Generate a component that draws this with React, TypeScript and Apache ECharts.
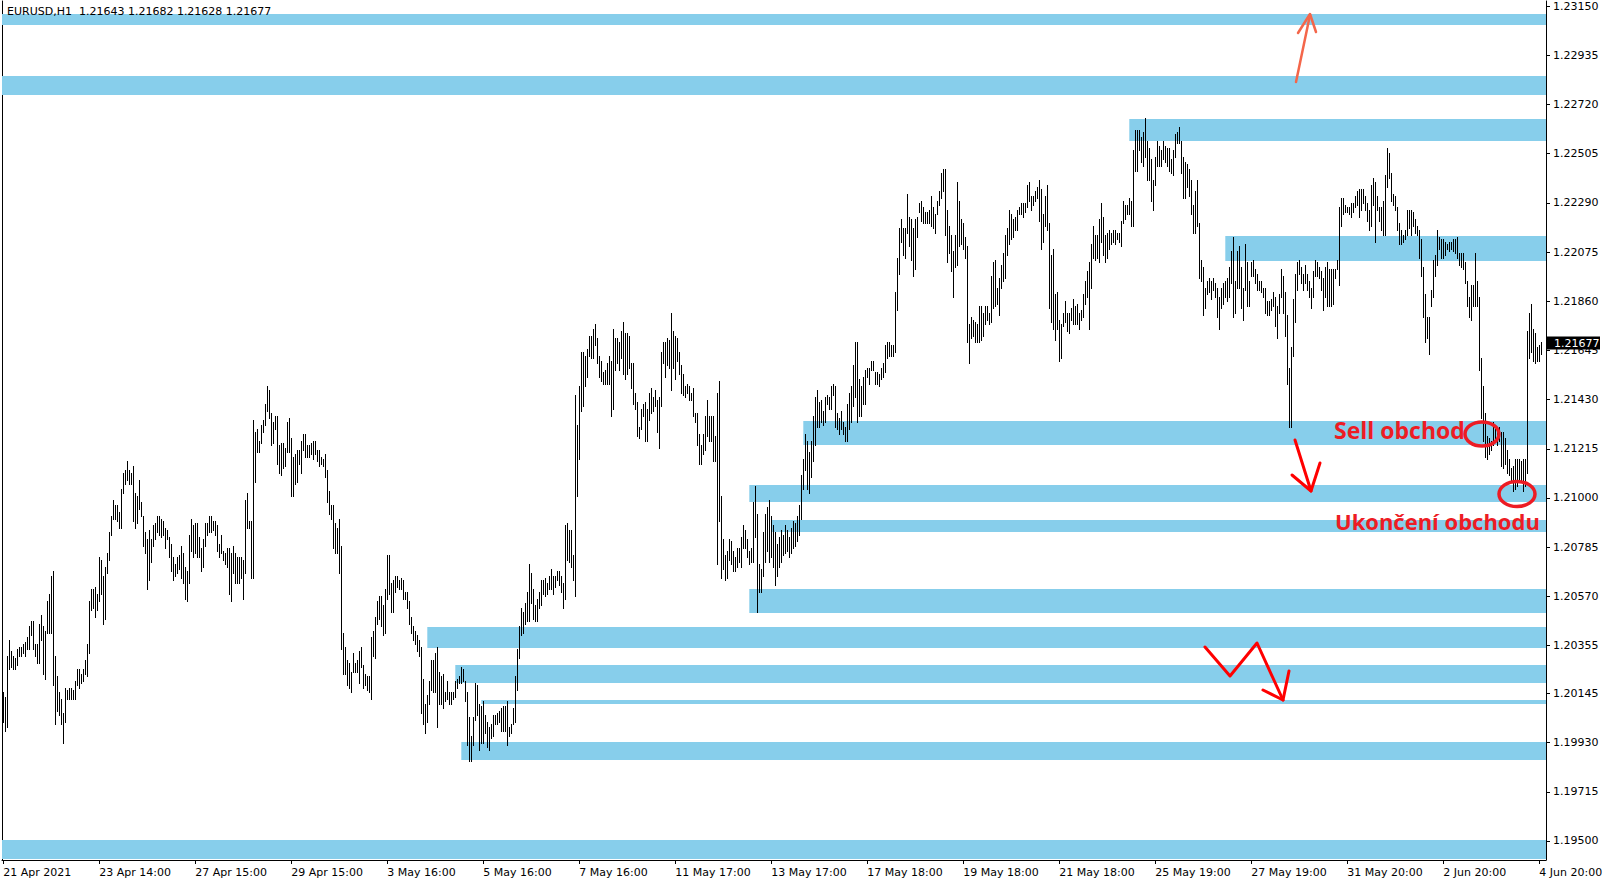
import React, { useEffect, useRef } from "react";
import * as echarts from "echarts";

// ---- DATA (prices in pips, i.e. price * 10000), each bar = [high, low] ----
const bars21Apr = [
  [12015,12002],[12013,11998],[12031,12000],[12038,12025],[12033,12026],[12031,12025],[12030,12025],[12034,12027],[12035,12031],[12035,12031],
  [12036,12032],[12037,12031],[12039,12034],[12044,12034],[12046,12040],[12046,12034],[12036,12031],[12036,12028],[12045,12028],[12049,12038],
  [12044,12023],[12042,12021],[12055,12041],[12058,12041],[12066,12041],[12068,12018],[12031,12001],[12022,12007],[12015,12005],[12012,12001],
  [12006,11993],[12017,12002],[12016,12012],[12017,12012],[12017,12012],[12016,12012],[12020,12012],[12025,12018],[12025,12017],[12023,12019],
  [12025,12020],[12029,12023],[12036,12022],[12055,12032],[12060,12051],[12060,12052],[12061,12048],[12058,12051],[12074,12055],[12073,12058],
  [12066,12045],[12070,12047],[12076,12067],[12085,12073],[12092,12084],[12099,12091],[12097,12091],[12097,12090],[12094,12087],[12104,12087],
  [12111,12102],[12112,12106],[12116,12108],[12112,12106],[12111,12106],[12114,12090],[12102,12087],[12101,12089],[12108,12095],[12098,12092],
  [12092,12079],[12085,12076],[12082,12060],[12086,12064],[12082,12072],[12088,12079],[12089,12082],[12092,12085],[12092,12084],[12091,12083],
  [12090,12084],[12087,12078],[12086,12082],[12083,12074],[12080,12068],[12074,12064],[12071,12066],[12074,12067],[12075,12069],[12079,12065],
  [12076,12063],[12070,12056],[12068,12055],[12084,12063],[12091,12077],[12088,12074],[12089,12076],[12089,12074],[12083,12074],[12078,12068],
  [12082,12070],[12089,12079],[12089,12084],[12092,12085],[12092,12085],[12090,12086],[12090,12084],[12088,12077],[12080,12074],[12084,12076],
  [12077,12073],[12076,12071],[12078,12070],[12078,12058],[12076,12055],[12079,12067],[12076,12063],[12074,12063],[12074,12063],[12074,12065],
  [12073,12056],[12099,12067],[12102,12087],[12090,12087],[12090,12065],[12134,12065],[12129,12107],[12130,12120],[12125,12120],
];
const bars29Apr = [
  [12132,12124],[12134,12129],[12141,12132],[12149,12138],[12147,12135],[12137,12123],[12133,12124],[12136,12130],[12136,12115],[12123,12111],
  [12124,12110],[12124,12113],[12122,12114],[12133,12120],[12135,12120],[12126,12101],[12118,12101],[12119,12106],[12121,12107],[12121,12115],
  [12125,12111],[12128,12121],[12128,12118],[12123,12118],[12123,12118],[12124,12119],[12125,12117],[12125,12119],[12121,12116],[12121,12114],
  [12118,12115],[12117,12114],[12119,12109],[12112,12098],[12103,12093],[12097,12091],[12097,12078],[12089,12076],[12087,12076],[12091,12067],
  [12079,12034],[12041,12023],[12035,12023],[12029,12018],[12028,12017],[12024,12015],[12032,12024],[12028,12024],[12029,12024],[12033,12019],
  [12035,12026],[12027,12017],[12023,12018],[12022,12016],[12022,12015],[12039,12012],[12042,12031],[12048,12030],[12055,12045],[12057,12047],
  [12057,12044],[12053,12040],[12060,12041],[12075,12056],[12075,12058],[12063,12050],[12064,12050],[12066,12059],[12066,12061],[12064,12060],
  [12065,12060],[12064,12056],[12059,12056],[12059,12052],[12055,12045],[12048,12041],[12044,12038],[12042,12036],[12040,12033],[12038,12031],
  [12035,12006],[12021,12001],[12010,11997],[12014,12002],[12020,12010],[12029,12016],[12029,12015],[12032,12015],[12035,12000],[12024,12010],
  [12022,12010],[12023,12008],[12015,12011],[12020,12012],[12015,12010],[12015,12010],[12015,12012],[12020,12013],[12021,12017],[12022,12019],
  [12026,12019],[12025,12020],[12020,12011],[12015,11992],[12004,11985],[11996,11985],[12004,11992],[12019,12003],[12018,12005],[12010,11990],
  [12009,11993],[12011,11993],[12005,11997],[12002,11991],[12000,11990],[12001,11995],[12005,11996],[12005,12001],[12006,12001],[12007,12002],
  [12008,11998],[12009,11998],[12009,11998],[12011,11992],[12000,11996],[12001,11997],[12008,12001],
  [12022,12002],[12034,12016],[12044,12030],
];
const bars6May = [
  [12052,12040],[12050,12041],[12054,12045],[12059,12046],[12071,12046],[12067,12054],[12060,12047],[12053,12046],[12056,12046],[12059,12052],
  [12064,12053],[12064,12058],[12065,12057],[12063,12058],[12066,12060],[12069,12060],[12066,12058],[12066,12061],[12068,12064],[12068,12062],
  [12066,12059],[12063,12052],[12088,12056],[12089,12073],[12086,12072],[12086,12070],[12075,12064],[12145,12057],[12132,12101],[12149,12117],
  [12164,12138],[12164,12140],[12162,12149],[12165,12153],[12171,12162],[12171,12161],[12174,12161],[12176,12167],[12170,12159],[12162,12153],
  [12160,12151],[12155,12150],[12156,12150],[12159,12150],[12162,12150],[12160,12136],[12174,12139],[12170,12156],[12170,12159],[12168,12156],
  [12173,12161],[12177,12154],[12172,12152],[12172,12154],[12171,12157],[12159,12148],[12159,12141],[12146,12139],[12142,12127],[12131,12126],
  [12139,12130],[12141,12136],[12142,12125],[12139,12125],[12146,12134],[12148,12137],[12144,12138],[12147,12140],[12143,12129],[12144,12122],
  [12164,12140],[12168,12159],[12168,12153],[12170,12158],[12169,12157],[12181,12147],[12173,12157],[12171,12152],[12170,12160],[12164,12154],
  [12158,12146],[12154,12145],[12149,12144],[12150,12146],[12149,12143],[12146,12143],[12148,12136],[12137,12133],[12137,12123],[12128,12115],
  [12123,12115],[12128,12119],[12136,12121],[12143,12127],[12136,12125],[12136,12125],[12136,12116],[12127,12116],[12146,12071],[12151,12090],
  [12101,12065],[12082,12069],[12075,12064],[12077,12065],[12082,12073],[12081,12071],[12077,12068],[12074,12068],[12078,12070],[12078,12072],
  [12083,12070],[12088,12078],[12086,12078],[12082,12074],[12077,12071],[12078,12072],[12098,12072],[12105,12083],[12093,12050],[12071,12059],
  [12069,12059],[12085,12066],[12093,12072],[12096,12077],[12099,12072],
  [12092,12074],[12088,12070],[12085,12062],[12080,12066],[12083,12070],[12086,12072],[12084,12075],[12088,12076],[12086,12077],[12083,12074],
  [12087,12076],[12090,12078],[12089,12079],[12092,12081],
];
const bars14May = [
  [12097,12084],[12110,12091],[12117,12104],[12128,12112],[12125,12104],[12120,12102],[12125,12109],[12136,12116],[12144,12123],[12147,12131],
  [12142,12131],[12143,12133],[12138,12132],[12144,12133],[12145,12141],[12144,12139],[12149,12139],[12150,12145],[12149,12131],[12137,12130],
  [12135,12128],[12138,12130],[12133,12128],[12131,12125],[12141,12125],[12146,12130],[12149,12133],[12158,12140],[12168,12144],[12168,12133],
  [12152,12136],[12149,12136],[12153,12141],[12156,12141],[12157,12153],[12157,12150],[12160,12156],[12160,12156],[12155,12150],[12155,12150],
  [12154,12149],[12157,12152],[12159,12153],[12167,12155],[12168,12161],[12168,12162],[12167,12162],[12167,12162],[12190,12164],[12205,12182],
  [12218,12198],[12222,12212],[12218,12206],[12218,12205],[12233,12216],[12223,12210],[12222,12204],[12218,12197],[12222,12200],[12223,12214],
  [12229,12225],[12230,12221],[12227,12220],[12225,12220],[12225,12220],[12226,12220],[12232,12219],[12227,12218],[12224,12216],[12230,12224],
  [12234,12228],[12242,12231],[12244,12234],[12244,12215],[12226,12203],[12219,12207],[12215,12199],[12208,12188],[12215,12201],[12238,12202],
  [12230,12210],[12222,12211],[12220,12209],[12214,12205],[12210,12168],[12176,12159],[12179,12170],[12178,12171],[12177,12168],[12176,12168],
  [12184,12168],[12184,12169],[12181,12171],[12184,12176],[12184,12178],[12181,12176],[12197,12177],[12203,12183],[12204,12184],[12192,12185],
  [12196,12180],[12202,12192],[12207,12195],[12215,12196],[12218,12206],[12226,12211],[12224,12213],[12222,12214],[12223,12217],[12226,12217],
  [12227,12224],[12229,12224],[12229,12223],[12229,12225],[12237,12227],[12238,12230],[12232,12226],[12232,12228],
];
const bars21May = [
  [12234,12230],[12236,12231],[12239,12221],[12235,12209],[12224,12212],[12232,12219],[12237,12217],[12220,12183],[12206,12177],[12209,12174],
  [12189,12169],[12190,12174],[12178,12160],[12176,12161],[12181,12175],[12186,12177],[12181,12173],[12181,12172],[12183,12178],[12187,12176],
  [12184,12176],[12185,12176],[12181,12174],[12182,12178],[12189,12179],[12195,12185],[12199,12188],[12203,12174],[12211,12192],[12219,12205],
  [12215,12204],[12215,12205],[12222,12203],[12229,12212],[12223,12206],[12215,12203],[12216,12205],[12217,12209],[12216,12211],[12217,12212],
  [12217,12211],[12216,12213],[12216,12212],[12221,12210],[12230,12220],[12228,12222],[12228,12224],[12231,12224],[12230,12219],[12252,12219],
  [12261,12243],[12261,12243],[12261,12252],[12258,12247],[12260,12245],[12266,12249],[12256,12239],[12253,12239],[12248,12230],[12239,12226],
  [12249,12237],[12256,12245],[12254,12245],[12252,12245],[12256,12248],[12254,12247],[12253,12245],[12253,12243],[12248,12242],[12252,12241],
  [12259,12249],[12260,12255],[12262,12255],[12256,12242],[12249,12231],[12247,12231],[12246,12236],[12244,12232],[12239,12224],[12228,12216],
  [12234,12216],[12239,12219],[12220,12196],[12204,12195],[12201,12180],[12192,12183],[12195,12189],[12196,12190],[12195,12187],[12196,12191],
  [12194,12188],[12192,12179],[12188,12174],[12192,12183],[12194,12185],[12195,12188],[12196,12186],[12201,12188],[12208,12194],[12214,12179],
  [12195,12181],[12208,12192],[12210,12192],[12201,12183],[12192,12178],[12211,12191],[12203,12184],[12195,12184],[12203,12197],[12204,12197],
  [12200,12194],[12198,12191],[12195,12191],[12195,12190],[12192,12188],[12192,12181],[12186,12180],[12186,12180],[12187,12182],[12190,12184],
  [12188,12175],[12184,12170],[12189,12181],[12200,12188],[12197,12181],[12190,12171],[12180,12150],[12157,12131],[12166,12131],[12187,12162],
  [12198,12177],[12203,12191],[12204,12198],
];
const bars31May = [
  [12201,12194],[12198,12191],[12202,12194],[12198,12191],[12195,12188],[12192,12183],[12199,12188],[12204,12197],[12203,12197],[12201,12196],
  [12199,12191],[12196,12182],[12201,12188],[12203,12184],[12200,12184],[12200,12184],[12200,12185],[12200,12196],[12204,12200],[12227,12193],
  [12231,12219],[12231,12224],[12228,12225],[12227,12225],[12227,12224],[12229,12223],[12229,12225],[12232,12227],[12234,12228],[12235,12223],
  [12235,12226],[12235,12229],[12232,12226],[12229,12221],[12226,12217],[12237,12219],[12240,12228],[12238,12212],[12232,12226],[12227,12221],
  [12227,12217],[12230,12215],[12241,12215],[12253,12236],[12251,12240],[12242,12230],[12233,12228],[12232,12226],[12227,12217],[12220,12211],
  [12217,12211],[12215,12212],[12217,12213],[12226,12215],[12226,12218],[12226,12215],[12225,12219],[12222,12216],[12219,12215],[12217,12205],
  [12213,12197],[12201,12179],[12189,12168],[12179,12170],[12179,12163],[12191,12184],[12204,12188],[12206,12197],[12217,12202],[12214,12209],
  [12213,12205],[12213,12205],[12212,12206],[12211,12209],[12212,12208],[12212,12209],[12213,12208],[12213,12207],[12214,12205],[12207,12202],
  [12207,12201],[12207,12200],[12203,12194],[12195,12184],[12188,12179],[12193,12178],[12193,12184],[12207,12184],[12195,12184],[12188,12156],
  [12161,12135],[12149,12125],[12137,12118],[12127,12117],[12126,12119],[12125,12121],[12133,12123],[12130,12125],[12130,12123],[12131,12125],
  [12129,12114],[12129,12113],[12126,12115],[12121,12111],[12117,12110],[12113,12107],[12114,12103],[12117,12104],[12117,12105],[12117,12107],
  [12116,12108],[12117,12103],[12117,12105],[12173,12111],[12181,12161],[12185,12164],[12174,12160],[12172,12159],[12166,12160],[12167,12160],
  [12168,12163],
];

const xTickBars = [0, 48, 96, 144, 192, 240, 288, 336, 384, 432, 480, 528, 576, 624, 672, 720, 768];
const xTickLabels = [
  "21 Apr 2021", "23 Apr 14:00", "27 Apr 15:00", "29 Apr 15:00", "3 May 16:00", "5 May 16:00",
  "7 May 16:00", "11 May 17:00", "13 May 17:00", "17 May 18:00", "19 May 18:00", "21 May 18:00",
  "25 May 19:00", "27 May 19:00", "31 May 20:00", "2 Jun 20:00", "4 Jun 20:00",
];
const yTickValues = [
  1.195, 1.19715, 1.1993, 1.20145, 1.20355, 1.2057, 1.20785, 1.21, 1.21215,
  1.2143, 1.21645, 1.2186, 1.22075, 1.2229, 1.22505, 1.2272, 1.22935, 1.2315,
];

// zones: start bar (null = from left edge), top price, bottom price
const zoneStart = [null, null, 563, 611, 400, 373, 384, 373, 212, 226, 239, 229, null];
const zoneTop = [1.23116, 1.22845, 1.22657, 1.22145, 1.21336, 1.21056, 1.20903, 1.20602, 1.20436, 1.20269, 1.20116, 1.19933, 1.19504];
const zoneBottom = [1.23068, 1.22762, 1.22561, 1.22036, 1.21231, 1.20982, 1.20851, 1.20497, 1.20344, 1.20191, 1.20099, 1.19854, 1.19421];

const symbolText = "EURUSD,H1\u00A0\u00A01.21643 1.21682 1.21628 1.21677";
const lastClose = 1.21677;

// ---- layout ----
const X_MIN = -0.65;
const X_MAX = 771.35;
const Y_MIN = 1.194169;
const Y_MAX = 1.231727;
const AXIS_FONT = "DejaVu Sans";

export default function App() {
  const ref = useRef<HTMLDivElement>(null);

  useEffect(() => {
    if (!ref.current) return;
    const chart = echarts.init(ref.current, undefined, { renderer: "svg" });

    const allBars = [...bars21Apr, ...bars29Apr, ...bars6May, ...bars14May, ...bars21May, ...bars31May];
    const barData = allBars.map((b, i) => [i, b[0] / 10000, b[1] / 10000]);
    const zoneData = zoneTop.map((t, k) => [zoneStart[k] === null ? X_MIN : zoneStart[k], t, zoneBottom[k]]);
    const labelMap: Record<number, string> = {};
    xTickBars.forEach((b, k) => (labelMap[b] = xTickLabels[k]));

    chart.setOption({
      animation: false,
      backgroundColor: "#ffffff",
      grid: { left: 2, right: 64, top: 1, bottom: 24 },
      xAxis: {
        type: "value",
        min: X_MIN,
        max: X_MAX,
        axisLine: { show: true, onZero: false, lineStyle: { color: "#000", width: 1 } },
        axisTick: { show: true, length: 4, customValues: xTickBars, lineStyle: { color: "#000" } },
        axisLabel: {
          show: true,
          customValues: xTickBars,
          formatter: (v: number) => labelMap[Math.round(v)] ?? "",
          align: "left",
          margin: 7,
          color: "#000",
          fontSize: 11,
          fontFamily: AXIS_FONT,
        },
        splitLine: { show: false },
      },
      yAxis: [
        {
          type: "value",
          position: "right",
          min: Y_MIN,
          max: Y_MAX,
          axisLine: { show: true, onZero: false, lineStyle: { color: "#000", width: 1 } },
          axisTick: { show: true, length: 4, customValues: yTickValues, lineStyle: { color: "#000" } },
          axisLabel: {
            show: true,
            customValues: yTickValues,
            formatter: (v: number) => v.toFixed(5),
            margin: 7,
            color: "#000",
            fontSize: 11,
            fontFamily: AXIS_FONT,
          },
          splitLine: { show: false },
        },
        {
          type: "value",
          position: "left",
          min: Y_MIN,
          max: Y_MAX,
          axisLine: { show: true, onZero: false, lineStyle: { color: "#000", width: 1 } },
          axisTick: { show: false },
          axisLabel: { show: false },
          splitLine: { show: false },
        },
      ],
      series: [
        {
          type: "custom",
          z: 1,
          data: zoneData,
          encode: { x: 0, y: [1, 2] },
          renderItem: (params: any, api: any) => {
            const p1 = api.coord([api.value(0), api.value(1)]);
            const p2 = api.coord([api.value(0), api.value(2)]);
            const cs = params.coordSys;
            const x0 = Math.max(p1[0], cs.x);
            return {
              type: "rect",
              shape: { x: x0, y: p1[1], width: cs.x + cs.width - x0, height: p2[1] - p1[1] },
              style: { fill: "#87CEEB" },
            };
          },
        },
        {
          type: "custom",
          z: 2,
          data: barData,
          encode: { x: 0, y: [1, 2] },
          renderItem: (_params: any, api: any) => {
            const top = api.coord([api.value(0), api.value(1)]);
            const bot = api.coord([api.value(0), api.value(2)]);
            const x = Math.round(top[0]) + 0.5;
            return {
              type: "line",
              shape: { x1: x, y1: Math.round(top[1]), x2: x, y2: Math.round(bot[1]) + 1 },
              style: { stroke: "#000", lineWidth: 1 },
            };
          },
        },
      ],
    });

    const py = chart.convertToPixel({ yAxisIndex: 0 }, lastClose) as number;

    chart.setOption({
      graphic: [
        {
          type: "text",
          left: 7,
          top: 6,
          z: 100,
          style: { text: symbolText, fill: "#000", font: `11px "${AXIS_FONT}"` },
        },
        // current price box
        { type: "rect", z: 100, shape: { x: 1547, y: Math.round(py) - 6.5, width: 53, height: 13 }, style: { fill: "#000" } },
        {
          type: "text",
          z: 101,
          style: {
            text: lastClose.toFixed(5),
            x: 1554,
            y: py,
            fill: "#fff",
            font: `11px "${AXIS_FONT}"`,
            textVerticalAlign: "middle",
            verticalAlign: "middle",
          },
        },
        // annotations
        {
          type: "polyline",
          z: 100,
          shape: { points: [[1296, 82], [1310, 15]] },
          style: { stroke: "#F4664A", lineWidth: 2.5, fill: null, lineCap: "round" },
        },
        {
          type: "polyline",
          z: 100,
          shape: { points: [[1298, 33], [1310, 14], [1316, 32]] },
          style: { stroke: "#F4664A", lineWidth: 2.5, fill: null, lineCap: "round", lineJoin: "round" },
        },
        {
          type: "polyline",
          z: 100,
          shape: { points: [[1295, 440], [1311, 491]] },
          style: { stroke: "#FF0000", lineWidth: 3, fill: null, lineCap: "round" },
        },
        {
          type: "polyline",
          z: 100,
          shape: { points: [[1292, 475], [1311, 491], [1320, 463]] },
          style: { stroke: "#FF0000", lineWidth: 3, fill: null, lineCap: "round", lineJoin: "round" },
        },
        {
          type: "polyline",
          z: 100,
          shape: { points: [[1205, 647], [1230, 676], [1257, 643], [1283, 700]] },
          style: { stroke: "#FF0000", lineWidth: 3, fill: null, lineCap: "round", lineJoin: "round" },
        },
        {
          type: "polyline",
          z: 100,
          shape: { points: [[1263, 690], [1283, 700], [1289, 671]] },
          style: { stroke: "#FF0000", lineWidth: 3, fill: null, lineCap: "round", lineJoin: "round" },
        },
        {
          type: "ellipse",
          z: 100,
          shape: { cx: 1482, cy: 434, rx: 17, ry: 12 },
          style: { stroke: "#ED1C24", lineWidth: 3.5, fill: null },
        },
        {
          type: "ellipse",
          z: 100,
          shape: { cx: 1517, cy: 494, rx: 18, ry: 12.5 },
          style: { stroke: "#ED1C24", lineWidth: 3.5, fill: null },
        },
        {
          type: "text",
          z: 100,
          style: {
            text: "Sell obchod",
            x: 1334,
            y: 430,
            fill: "#ED1C24",
            font: 'bold 23px "Open Sans"',
            textVerticalAlign: "middle",
            verticalAlign: "middle",
          },
        },
        {
          type: "text",
          z: 100,
          style: {
            text: "Ukončení obchodu",
            x: 1335,
            y: 521,
            fill: "#ED1C24",
            font: 'bold 22px "Open Sans"',
            textVerticalAlign: "middle",
            verticalAlign: "middle",
          },
        },
      ],
    });

    return () => chart.dispose();
  }, []);

  return (
    <div
      ref={ref}
      style={{ position: "fixed", left: 0, top: 0, width: 1610, height: 884, background: "#fff" }}
    />
  );
}
